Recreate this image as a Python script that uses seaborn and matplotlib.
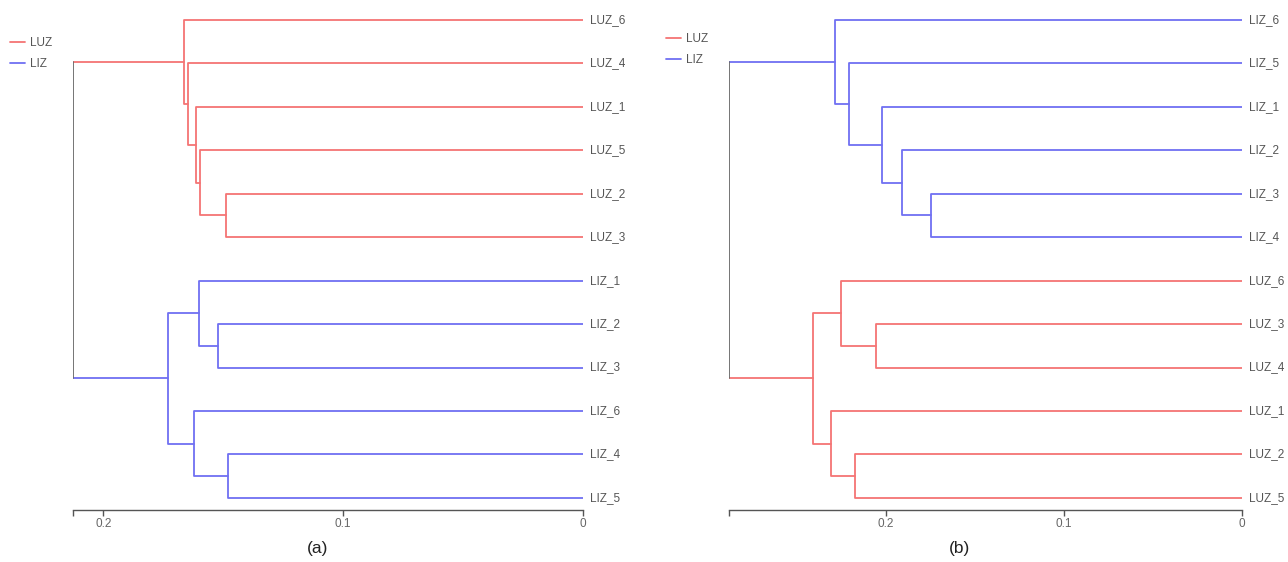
import matplotlib
matplotlib.use("Agg")
import matplotlib.pyplot as plt
import seaborn as sns
import pandas as pd

# ---------------------
# Data
# ---------------------

# leaves listed top to bottom; merges are (left, right, height), nodes numbered like scipy linkage
leaves_a = ['LUZ_6', 'LUZ_4', 'LUZ_1', 'LUZ_5', 'LUZ_2', 'LUZ_3',
            'LIZ_1', 'LIZ_2', 'LIZ_3', 'LIZ_6', 'LIZ_4', 'LIZ_5']
merges_a = [(4, 5, 0.149), (3, 12, 0.1596), (2, 13, 0.1613), (1, 14, 0.1646), (0, 15, 0.1663),
            (7, 8, 0.152), (6, 17, 0.160), (10, 11, 0.148), (9, 19, 0.162), (18, 20, 0.173),
            (16, 21, 0.2126)]

leaves_b = ['LIZ_6', 'LIZ_5', 'LIZ_1', 'LIZ_2', 'LIZ_3', 'LIZ_4',
            'LUZ_6', 'LUZ_3', 'LUZ_4', 'LUZ_1', 'LUZ_2', 'LUZ_5']
merges_b = [(4, 5, 0.1747), (3, 12, 0.1906), (2, 13, 0.2021), (1, 14, 0.2206), (0, 15, 0.2283),
            (7, 8, 0.2052), (6, 17, 0.2249), (10, 11, 0.2170), (9, 19, 0.2309), (18, 20, 0.2408),
            (16, 21, 0.288)]

tick_values = [0.2, 0.1, 0]
tick_labels = ['0.2', '0.1', '0']
groups = ['LUZ', 'LIZ']
colors = {'LUZ': '#f47474', 'LIZ': '#7070f2'}
root_color = '#6a6a6a'

sns.set_style('white')
plt.rcParams['font.family'] = ['Liberation Sans', 'DejaVu Sans']


def build_segments(leaves, merges):
    n = len(leaves)
    pos = {i: float(i) for i in range(n)}
    hgt = {i: 0.0 for i in range(n)}
    grp = {i: leaves[i][:3] for i in range(n)}
    rows = []
    root = None
    for k, (l, r, h) in enumerate(merges):
        node = n + k
        pos[node] = (pos[l] + pos[r]) / 2
        hgt[node] = h
        if grp[l] == grp[r]:
            grp[node] = grp[l]
            pts = [(hgt[l], pos[l]), (h, pos[l]), (h, pos[r]), (hgt[r], pos[r])]
            for x, y in pts:
                rows.append({'seg': f'n{k}', 'x': x, 'y': y, 'group': grp[node]})
        else:
            grp[node] = 'root'
            # arms keep the colour of their cluster, the joining bar is grey
            for side, child in (('l', l), ('r', r)):
                rows.append({'seg': f'n{k}{side}', 'x': hgt[child], 'y': pos[child], 'group': grp[child]})
                rows.append({'seg': f'n{k}{side}', 'x': h, 'y': pos[child], 'group': grp[child]})
            root = (h, pos[l], pos[r])
    return pd.DataFrame(rows), root


def plot_dendrogram(ax, leaves, merges):
    df, root = build_segments(leaves, merges)
    sns.lineplot(data=df, x='x', y='y', units='seg', estimator=None, sort=False,
                 hue='group', hue_order=groups, palette=colors, linewidth=1.3, ax=ax)
    h, y1, y2 = root
    ax.plot([h, h], [y1, y2], color=root_color, linewidth=1.3)

    for i, name in enumerate(leaves):
        ax.annotate(name, (0, i), xytext=(5, 0), textcoords='offset points',
                    va='center', ha='left', fontsize=8.5, color='#555555', annotation_clip=False)

    ax.set_xlim(h, 0)
    ax.set_ylim(len(leaves) - 1 + 0.28, -0.3)
    ax.set_yticks([])
    ax.set_xticks(tick_values)
    ax.set_xticklabels(tick_labels)
    ax.set_xticks([h], minor=True)
    ax.tick_params(axis='x', which='both', bottom=True, direction='out', length=4, width=1,
                   color='#555555', labelsize=8.5, labelcolor='#666666', pad=2)
    ax.set_xlabel('')
    ax.set_ylabel('')
    sns.despine(ax=ax, left=True, top=True, right=True)
    ax.spines['bottom'].set_color('#555555')
    ax.spines['bottom'].set_linewidth(1)
    ax.spines['bottom'].set_bounds(0, h)
    handles, labels = ax.get_legend_handles_labels()
    ax.get_legend().remove()
    return handles, labels


fig = plt.figure(figsize=(12.88, 5.62), dpi=100)
ax_a = fig.add_axes([73 / 1288, 1 - 510 / 562, 510 / 1288, 503 / 562])
ax_b = fig.add_axes([729 / 1288, 1 - 510 / 562, 513 / 1288, 503 / 562])

for ax, leaves, merges, lx, ly, tag, tx in [
        (ax_a, leaves_a, merges_a, 10, 37, '(a)', 318),
        (ax_b, leaves_b, merges_b, 666, 33, '(b)', 960)]:
    handles, labels = plot_dendrogram(ax, leaves, merges)
    fig.legend(handles, labels, loc='upper left', bbox_to_anchor=(lx / 1288, 1 - ly / 562),
               frameon=False, fontsize=8.5, handlelength=1.3, handletextpad=0.4,
               labelspacing=0.75, borderaxespad=0, borderpad=0, labelcolor='#555555')
    fig.text(tx / 1288, 1 - 548 / 562, tag, ha='center', va='center', fontsize=12.5, color='#222222')

fig.savefig('out.png', dpi=100, facecolor='white')
